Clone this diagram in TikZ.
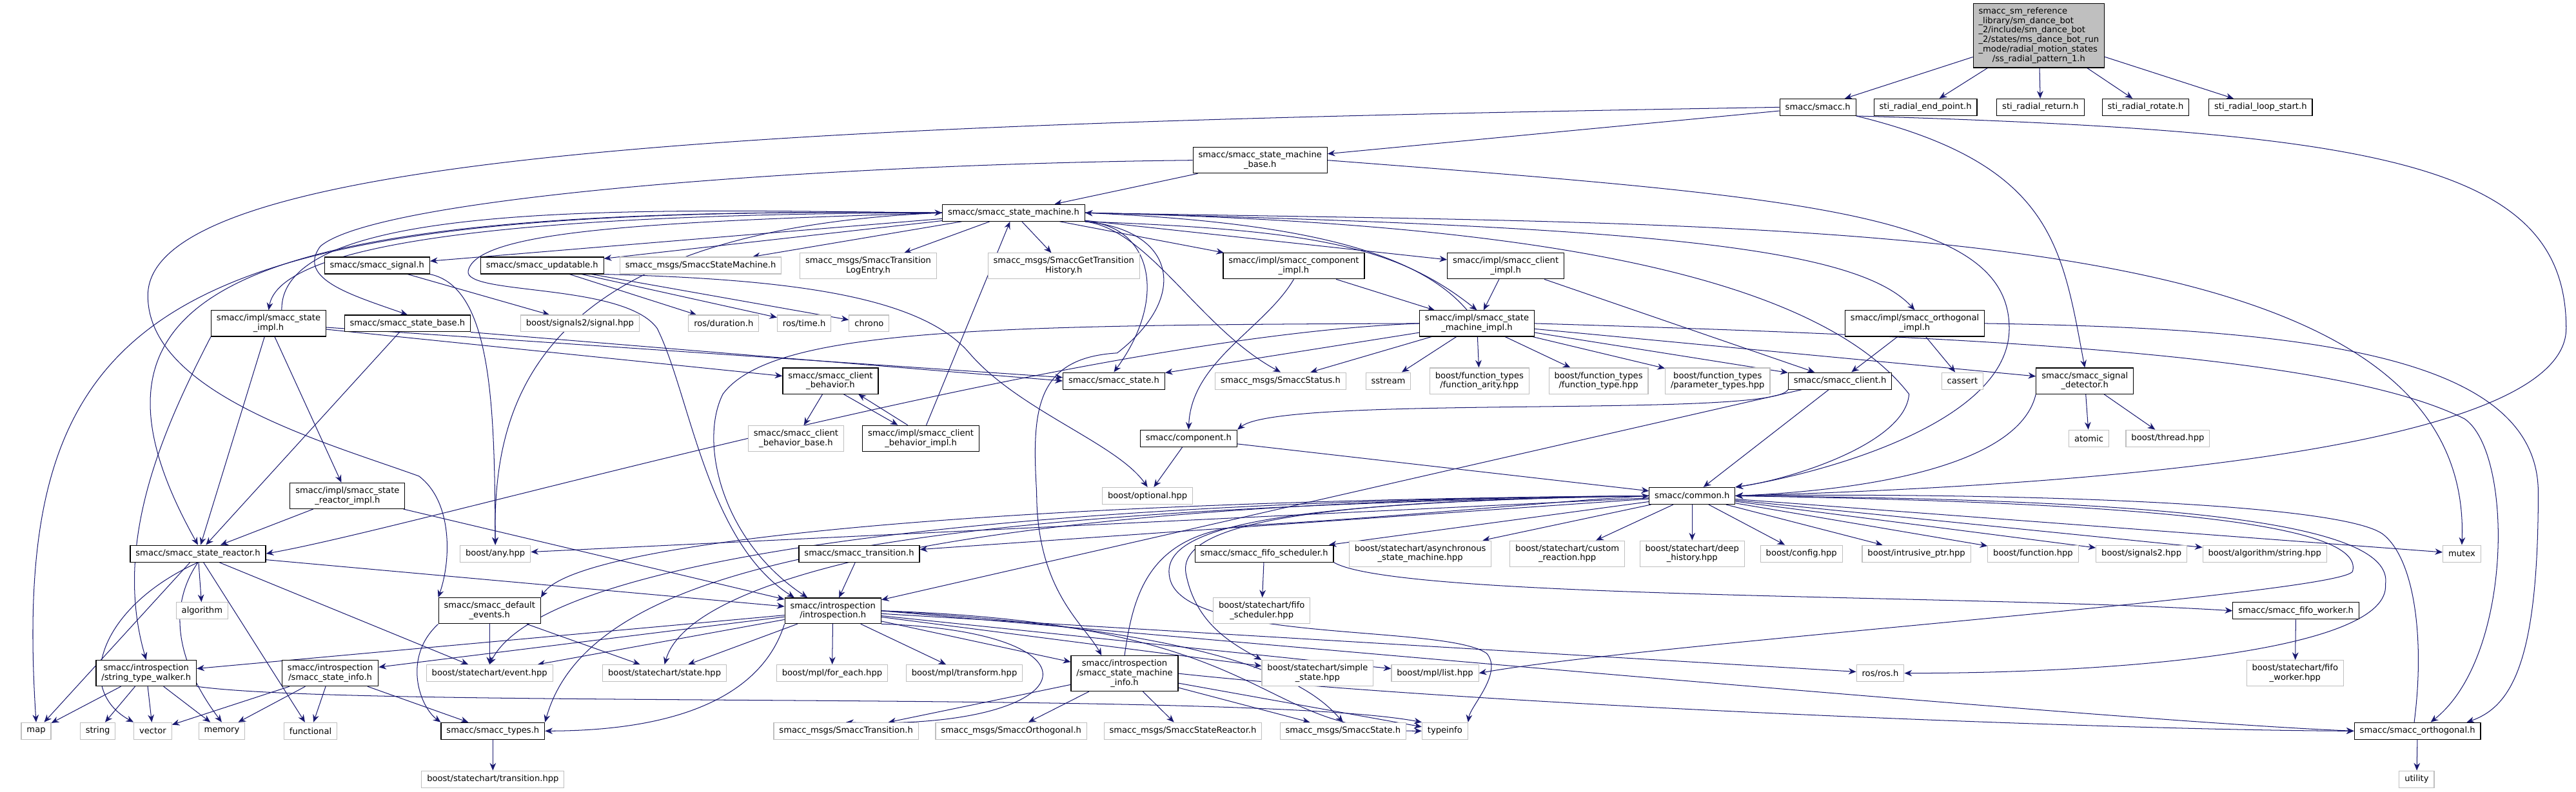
\documentclass[tikz,border=0pt]{standalone}
\usepackage{fontspec}
\setmainfont{DejaVu Sans}
\usetikzlibrary{arrows.meta,backgrounds}
\definecolor{edgeblue}{RGB}{25,25,112}
\definecolor{extgray}{RGB}{191,191,191}
\tikzset{
  hdr/.style={draw=black,fill=white,line width=0.45pt,font=\fontsize{5.15}{5.8}\selectfont,
    align=center,inner xsep=3.3pt,inner ysep=2.4pt,minimum height=10.2pt},
  ext/.style={hdr,draw=extgray},
  rootnode/.style={hdr,fill=extgray,inner ysep=2.1pt},
  dep/.style={draw=edgeblue,line width=0.4pt,-{Stealth[length=4.6pt,width=3.8pt]}}
}
\begin{document}
\begin{tikzpicture}[x=1pt,y=-1pt]
\useasboundingbox (0,0) rectangle (1568,482);
% headers
\node[rootnode] (root) at (1241,21.7) {\begin{tabular}{@{}l@{}}smacc\_sm\_reference\\\_library/sm\_dance\_bot\\\_2/include/sm\_dance\_bot\\\_2/states/ms\_dance\_bot\_run\\\_mode/radial\_motion\_states\\\multicolumn{1}{@{}c@{}}{/ss\_radial\_pattern\_1.h}\end{tabular}};
\node[hdr] (smaccH) at (1106.5,65.3) {smacc/smacc.h};
\node[hdr] (stiEnd) at (1172,65.3) {sti\_radial\_end\_point.h};
\node[hdr] (stiRet) at (1242,65.3) {sti\_radial\_return.h};
\node[hdr] (stiRot) at (1306,65.3) {sti\_radial\_rotate.h};
\node[hdr] (stiLoop) at (1376,65.3) {sti\_radial\_loop\_start.h};
\node[hdr] (smBase) at (767,97.6) {smacc/smacc\_state\_machine\\\_base.h};
\node[hdr] (sm) at (617,129.6) {smacc/smacc\_state\_machine.h};
\node[hdr] (sig) at (229.5,161.7) {smacc/smacc\_signal.h};
\node[hdr] (upd) at (330,161.7) {smacc/smacc\_updatable.h};
\node[ext] (msgSM) at (426.5,161.7) {smacc\_msgs/SmaccStateMachine.h};
\node[ext] (msgLog) at (528.5,162) {smacc\_msgs/SmaccTransition\\LogEntry.h};
\node[ext] (msgHist) at (647.5,162) {smacc\_msgs/SmaccGetTransition\\History.h};
\node[hdr] (compImpl) at (787.5,162) {smacc/impl/smacc\_component\\\_impl.h};
\node[hdr] (clImpl) at (916.5,162) {smacc/impl/smacc\_client\\\_impl.h};
\node[hdr] (stImpl) at (163.5,197) {smacc/impl/smacc\_state\\\_impl.h};
\node[hdr] (stBase) at (248,197) {smacc/smacc\_state\_base.h};
\node[ext] (bSig) at (353,197) {boost/signals2/signal.hpp};
\node[ext] (rosDur) at (440.5,197) {ros/duration.h};
\node[ext] (rosTime) at (489.5,197) {ros/time.h};
\node[ext] (chrono) at (529,197) {chrono};
\node[hdr] (smImpl) at (899,197) {smacc/impl/smacc\_state\\\_machine\_impl.h};
\node[hdr] (orthImpl) at (1165.5,197) {smacc/impl/smacc\_orthogonal\\\_impl.h};
\node[hdr] (cb) at (505.5,232) {smacc/smacc\_client\\\_behavior.h};
\node[hdr] (st) at (678,232) {smacc/smacc\_state.h};
\node[ext] (msgStatus) at (779.5,232) {smacc\_msgs/SmaccStatus.h};
\node[ext] (sstream) at (845,232) {sstream};
\node[ext] (fArity) at (900.5,232) {boost/function\_types\\/function\_arity.hpp};
\node[ext] (fType) at (973,232) {boost/function\_types\\/function\_type.hpp};
\node[ext] (fParam) at (1045.5,232) {boost/function\_types\\/parameter\_types.hpp};
\node[hdr] (client) at (1120,232) {smacc/smacc\_client.h};
\node[ext] (cassert) at (1194.5,232) {cassert};
\node[hdr] (sigDet) at (1269,232) {smacc/smacc\_signal\\\_detector.h};
\node[ext] (cbBase) at (484.5,267) {smacc/smacc\_client\\\_behavior\_base.h};
\node[hdr] (cbImpl) at (560.5,267) {smacc/impl/smacc\_client\\\_behavior\_impl.h};
\node[hdr] (comp) at (723.5,267) {smacc/component.h};
\node[ext] (atomic) at (1271.5,267) {atomic};
\node[ext] (bThread) at (1319.5,267) {boost/thread.hpp};
\node[hdr] (srImpl) at (211.5,302) {smacc/impl/smacc\_state\\\_reactor\_impl.h};
\node[ext] (bOpt) at (698.5,302) {boost/optional.hpp};
\node[hdr] (common) at (1030,302) {smacc/common.h};
\node[hdr] (sr) at (120.5,337.2) {smacc/smacc\_state\_reactor.h};
\node[ext] (bAny) at (301.5,337.2) {boost/any.hpp};
\node[hdr] (trans) at (523,337.2) {smacc/smacc\_transition.h};
\node[hdr] (fifoSch) at (769.5,337.2) {smacc/smacc\_fifo\_scheduler.h};
\node[ext] (scAsync) at (864.5,337.2) {boost/statechart/asynchronous\\\_state\_machine.hpp};
\node[ext] (scCustom) at (954,337.2) {boost/statechart/custom\\\_reaction.hpp};
\node[ext] (scDeep) at (1030,337.2) {boost/statechart/deep\\\_history.hpp};
\node[ext] (bConfig) at (1096.5,337.2) {boost/config.hpp};
\node[ext] (bIntr) at (1166.5,337.2) {boost/intrusive\_ptr.hpp};
\node[ext] (bFunc) at (1237.5,337.2) {boost/function.hpp};
\node[ext] (bSig2) at (1303.5,337.2) {boost/signals2.hpp};
\node[ext] (bAlgo) at (1378.5,337.2) {boost/algorithm/string.hpp};
\node[ext] (mutex) at (1498.5,337.2) {mutex};
\node[ext] (algorithm) at (123,372) {algorithm};
\node[hdr] (defEv) at (298,372) {smacc/smacc\_default\\\_events.h};
\node[hdr] (intro) at (507,372) {smacc/introspection\\/introspection.h};
\node[ext] (scFifoSch) at (768,372) {boost/statechart/fifo\\\_scheduler.hpp};
\node[hdr] (fifoWork) at (1397.5,372) {smacc/smacc\_fifo\_worker.h};
\node[hdr] (stw) at (89,410) {smacc/introspection\\/string\_type\_walker.h};
\node[hdr] (sInfo) at (201,410) {smacc/introspection\\/smacc\_state\_info.h};
\node[ext] (scEvent) at (298,410) {boost/statechart/event.hpp};
\node[ext] (scState) at (404.5,410) {boost/statechart/state.hpp};
\node[ext] (mplEach) at (506.5,410) {boost/mpl/for\_each.hpp};
\node[ext] (mplTrans) at (587,410) {boost/mpl/transform.hpp};
\node[hdr] (smInfo) at (684.5,410.2) {smacc/introspection\\/smacc\_state\_machine\\\_info.h};
\node[ext] (scSimple) at (802,410) {boost/statechart/simple\\\_state.hpp};
\node[ext] (mplList) at (873.5,410) {boost/mpl/list.hpp};
\node[ext] (ros) at (1144.5,410) {ros/ros.h};
\node[ext] (scFifoW) at (1397,410) {boost/statechart/fifo\\\_worker.hpp};
\node[ext] (map) at (22,445.2) {map};
\node[ext] (string) at (59.5,445.2) {string};
\node[ext] (vector) at (93,445.2) {vector};
\node[ext] (memory) at (135,445.2) {memory};
\node[ext] (functional) at (189,445.2) {functional};
\node[hdr] (types) at (300,445.2) {smacc/smacc\_types.h};
\node[ext] (msgTrans) at (515,445.2) {smacc\_msgs/SmaccTransition.h};
\node[ext] (msgOrth) at (615.5,445.2) {smacc\_msgs/SmaccOrthogonal.h};
\node[ext] (msgSR) at (720,445.2) {smacc\_msgs/SmaccStateReactor.h};
\node[ext] (msgState) at (817.5,445.2) {smacc\_msgs/SmaccState.h};
\node[ext] (typeinfo) at (879.5,445.2) {typeinfo};
\node[hdr] (orth) at (1471.5,445.2) {smacc/smacc\_orthogonal.h};
\node[ext] (scTrans) at (300,474.6) {boost/statechart/transition.hpp};
\node[ext] (utility) at (1471,474.6) {utility};
% includes
\begin{scope}[on background layer]
\foreach \a/\b in {root/smaccH,root/stiEnd,root/stiRet,root/stiRot,root/stiLoop,
  smaccH/smBase,smBase/sm,sm/sig,sm/upd,sm/msgSM,sm/msgLog,sm/msgHist,sm/compImpl,sm/clImpl,
  compImpl/smImpl,clImpl/smImpl,clImpl/client,
  smImpl/st,smImpl/msgStatus,smImpl/sstream,smImpl/fArity,smImpl/fType,smImpl/fParam,smImpl/client,smImpl/sigDet,
  orthImpl/client,orthImpl/cassert,stImpl/srImpl,stImpl/sr,stImpl/cb,stImpl/st,stBase/sr,
  sig/bSig,upd/rosDur,upd/rosTime,upd/chrono,cb/cbBase,cbImpl/sm,
  comp/bOpt,comp/common,client/common,client/intro,sigDet/atomic,sigDet/bThread,
  srImpl/sr,srImpl/intro,sr/map,sr/algorithm,sr/functional,sr/scEvent,sr/intro,
  common/bAny,common/trans,common/fifoSch,common/scAsync,common/scCustom,common/scDeep,
  common/bConfig,common/bIntr,common/bFunc,common/bSig2,common/bAlgo,common/mutex,
  trans/intro,fifoSch/scFifoSch,fifoWork/scFifoW,defEv/scEvent,defEv/scState,
  intro/stw,intro/sInfo,intro/scEvent,intro/scState,intro/mplEach,intro/mplTrans,intro/smInfo,
  intro/scSimple,intro/mplList,intro/ros,
  sInfo/vector,sInfo/memory,sInfo/functional,sInfo/types,
  stw/map,stw/string,stw/vector,stw/memory,
  smInfo/msgTrans,smInfo/msgOrth,smInfo/msgSR,smInfo/msgState,smInfo/typeinfo,
  types/scTrans,orth/utility}{
  \draw[dep] (\a) -- (\b);
}
\draw[dep] (smaccH.west) .. controls (500,75) and (90,90) .. (90,180)
  .. controls (90,240) and (200,270) .. (255,290) .. controls (275,305) and (275,340) .. (defEv.north west);
\draw[dep] (smaccH.south east) .. controls (1250,100) and (1255,150) .. (sigDet.north);
\draw[dep] (smaccH.south east) .. controls (1450,80) and (1562,100) .. (1562,200)
  .. controls (1562,270) and (1300,295) .. (common.east);
\draw[dep] (smBase.west) .. controls (500,100) and (230,120) .. (195,150)
  .. controls (180,170) and (215,180) .. (stBase.north);
\draw[dep] (smBase.east) .. controls (1100,120) and (1223,130) .. (1223,200)
  .. controls (1223,260) and (1100,290) .. (common.north east);
\draw[dep] (sm.west) .. controls (100,125) and (5,180) .. (map.north);
\draw[dep] (sm.west) .. controls (150,125) and (30,170) .. (sr.north);
\draw[dep] (sm.west) .. controls (300,130) and (170,150) .. (stImpl.north);
\draw[dep] ([xshift=8pt]stImpl.north) .. controls (170,120) and (400,128) .. (sm.west);
\draw[dep] (sm.west) .. controls (320,140) and (300,250) .. (bAny.north);
\draw[dep] (sm.east) .. controls (1100,138) and (1506,128) .. (mutex.north);
\draw[dep] (sm.east) .. controls (1000,138) and (1130,150) .. (orthImpl.north);
\draw[dep] (sm.east) .. controls (900,135) and (1100,160) .. (1162,240)
  .. controls (1160,270) and (1090,292) .. (common.north east);
\draw[dep] (sm.south east) .. controls (700,137) and (712,180) .. (st.north);
\draw[dep] (sm.south east) .. controls (700,140) and (730,200) .. (msgStatus.north);
\draw[dep] (sm.south east) .. controls (800,140) and (850,150) .. (smImpl.north);
\draw[dep] ([xshift=-6pt]smImpl.north) .. controls (860,150) and (780,135) .. (sm.east);
\draw[dep] (sm.west) .. controls (400,135) and (290,140) .. (285,165)
  .. controls (282,180) and (380,172) .. (400,200) .. controls (420,240) and (430,330) .. ([xshift=6pt]intro.north west);
\draw[dep] (sm.south east) .. controls (715,140) and (725,180) .. (680,215)
  .. controls (630,218) and (628,250) .. (631,300) .. controls (631,360) and (660,380) .. ([xshift=-14pt]smInfo.north);
\draw[dep] (smImpl.west) .. controls (650,205) and (260,320) .. (sr.east);
\draw[dep] (smImpl.west) .. controls (600,198) and (470,200) .. (440,240)
  .. controls (425,270) and (440,330) .. ([xshift=14pt]intro.north west);
\draw[dep] (smImpl.east) .. controls (1200,205) and (1420,215) .. (1500,255)
  .. controls (1530,275) and (1530,400) .. ([xshift=8pt]orth.north);
\draw[dep] (orthImpl.east) .. controls (1400,200) and (1545,215) .. (1545,300)
  .. controls (1545,400) and (1530,430) .. ([xshift=30pt]orth.north);
\draw[dep] ([xshift=-2pt]orth.north) .. controls (1476,390) and (1470,340) .. (1450,325)
  .. controls (1420,305) and (1200,300) .. (common.east);
\draw[dep] (sig.south east) .. controls (300,175) and (301,250) .. (bAny.north);
\draw[dep] (upd.south east) .. controls (480,170) and (560,180) .. (590,215)
  .. controls (620,250) and (680,270) .. (bOpt.north);
\draw[dep] (stBase.south east) -- (st.west);
\draw[dep] (stImpl.south west) .. controls (100,260) and (68,330) .. (stw.north);
\draw[dep] (compImpl.south) .. controls (770,200) and (725,220) .. (comp.north);
\draw[dep] (client.south west) .. controls (1080,255) and (780,240) .. (comp.north east);
\draw[dep] (sigDet.south west) .. controls (1230,280) and (1150,298) .. (common.east);
\draw[dep] ([xshift=8pt]cb.south) -- ([xshift=-14pt]cbImpl.north);
\draw[dep] ([xshift=-8pt]cbImpl.north) -- ([xshift=17pt]cb.south);
\draw[dep] (sr.south) .. controls (60,370) and (45,420) .. (vector.north west);
\draw[dep] (sr.south) .. controls (95,380) and (120,420) .. (memory.north);
\draw[dep] (defEv.south west) .. controls (245,400) and (255,430) .. (types.north west);
\draw[dep] (common.west) .. controls (600,305) and (350,330) .. (defEv.north east);
\draw[dep] (common.west) .. controls (600,305) and (330,340) .. (scEvent.north);
\draw[dep] (common.west) .. controls (600,305) and (420,350) .. (scState.north);
\draw[dep] (common.west) .. controls (550,310) and (360,340) .. (types.north east);
\draw[dep] (common.west) .. controls (800,305) and (715,318) .. (722,350)
  .. controls (728,380) and (750,392) .. (scSimple.north west);
\draw[dep] (common.west) .. controls (780,306) and (705,320) .. (712,352)
  .. controls (720,392) and (880,380) .. (905,398) .. controls (915,410) and (895,430) .. (typeinfo.north east);
\draw[dep] (common.east) .. controls (1300,306) and (1440,318) .. (1432,348)
  .. controls (1425,362) and (1000,392) .. (mplList.east);
\draw[dep] (common.east) .. controls (1320,304) and (1458,318) .. (1452,356)
  .. controls (1455,395) and (1300,410) .. (ros.east);
\draw[dep] (intro.south east) .. controls (680,385) and (660,445) .. (msgTrans.north);
\draw[dep] (intro.south west) .. controls (465,420) and (420,445) .. (types.east);
\draw[dep] (intro.east) .. controls (760,385) and (800,420) .. (msgState.north);
\draw[dep] (intro.east) .. controls (780,380) and (760,445) .. (typeinfo.west);
\draw[dep] (intro.east) .. controls (800,395) and (1300,440) .. (orth.west);
\draw[dep] (stw.south east) .. controls (220,432) and (760,420) .. (typeinfo.north west);
\draw[dep] (smInfo.east) .. controls (900,430) and (1300,445) .. (orth.west);
\draw[dep] (smInfo.north) .. controls (690,360) and (700,325) .. (760,320)
  .. controls (850,315) and (950,305) .. (common.west);
\draw[dep] (fifoSch.south east) .. controls (850,365) and (1200,362) .. (fifoWork.west);
\end{scope}
\end{tikzpicture}
\end{document}
